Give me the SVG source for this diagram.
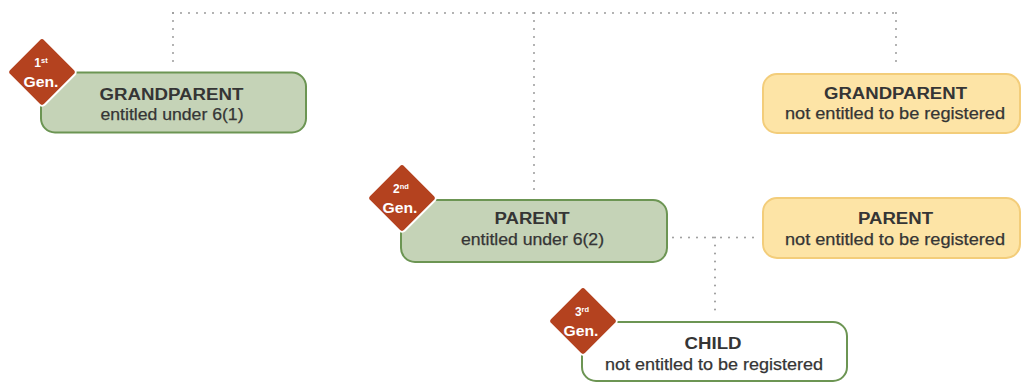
<svg xmlns="http://www.w3.org/2000/svg" width="1021" height="383" viewBox="0 0 1021 383">
<defs>
<style>
.green{fill:#c5d3b7;stroke:#6c9553;stroke-width:2}
.yellow{fill:#fde4a6;stroke:#f3cd7a;stroke-width:2}
.white{fill:#ffffff;stroke:#6c9553;stroke-width:2}
.dia{fill:#b4421f;stroke:#ffffff;stroke-width:2}
.t{font-family:"Liberation Sans",Arial,sans-serif;font-size:16px;font-weight:bold;fill:#353535;text-anchor:middle}
.s{font-family:"Liberation Sans",Arial,sans-serif;font-size:16px;fill:#353535;text-anchor:middle;stroke:#353535;stroke-width:0.25}
.g{font-family:"Liberation Sans",Arial,sans-serif;font-weight:bold;fill:#ffffff;text-anchor:middle}
.dots{fill:none;stroke:#9a9a9a;stroke-width:2;stroke-linecap:round;stroke-dasharray:0 8}
</style>
</defs>
<rect width="1021" height="383" fill="#ffffff"/>
<g id="connectors">
<path class="dots" d="M173 13 H896"/>
<path class="dots" d="M173 13 V66"/>
<path class="dots" d="M534 13 V192"/>
<path class="dots" d="M896 13 V66"/>
<path class="dots" d="M673 237.5 H757"/>
<path class="dots" d="M715 237.5 V316"/>
</g>
<g id="grandparent-entitled">
<rect class="green" x="41" y="72.5" width="265" height="60" rx="14"/>
<text class="t" x="171.5" y="99.5" textLength="144" lengthAdjust="spacingAndGlyphs">GRANDPARENT</text>
<text class="s" x="172" y="119.5" textLength="143" lengthAdjust="spacingAndGlyphs">entitled under 6(1)</text>
<rect class="dia" x="17" y="47" width="50" height="50" rx="4" transform="rotate(45 42 72)"/>
<text class="g" x="41" y="67" font-size="12">1<tspan font-size="7.5" dy="-4.5">st</tspan></text>
<text class="g" x="41" y="87" font-size="15" textLength="35" lengthAdjust="spacingAndGlyphs">Gen.</text>
</g>
<g id="grandparent-not-entitled">
<rect class="yellow" x="763" y="74" width="257" height="59" rx="14"/>
<text class="t" x="895.5" y="99" textLength="143" lengthAdjust="spacingAndGlyphs">GRANDPARENT</text>
<text class="s" x="895" y="119" textLength="220" lengthAdjust="spacingAndGlyphs">not entitled to be registered</text>
</g>
<g id="parent-entitled">
<rect class="green" x="401" y="200" width="266" height="62" rx="14"/>
<text class="t" x="532" y="223.5" textLength="75" lengthAdjust="spacingAndGlyphs">PARENT</text>
<text class="s" x="532.5" y="245" textLength="143" lengthAdjust="spacingAndGlyphs">entitled under 6(2)</text>
<rect class="dia" x="377" y="173" width="50" height="50" rx="4" transform="rotate(45 402 198)"/>
<text class="g" x="401" y="193" font-size="12">2<tspan font-size="7.5" dy="-4.5">nd</tspan></text>
<text class="g" x="400" y="213" font-size="15" textLength="35" lengthAdjust="spacingAndGlyphs">Gen.</text>
</g>
<g id="parent-not-entitled">
<rect class="yellow" x="763" y="198" width="257" height="60" rx="14"/>
<text class="t" x="895.5" y="223.5" textLength="75" lengthAdjust="spacingAndGlyphs">PARENT</text>
<text class="s" x="895" y="245" textLength="220" lengthAdjust="spacingAndGlyphs">not entitled to be registered</text>
</g>
<g id="child">
<rect class="white" x="582" y="322" width="265" height="59" rx="14"/>
<text class="t" x="713" y="348.5" textLength="57" lengthAdjust="spacingAndGlyphs">CHILD</text>
<text class="s" x="714" y="370" textLength="218" lengthAdjust="spacingAndGlyphs">not entitled to be registered</text>
<rect class="dia" x="558" y="296" width="50" height="50" rx="4" transform="rotate(45 583 321)"/>
<text class="g" x="582" y="316" font-size="12">3<tspan font-size="7.5" dy="-4.5">rd</tspan></text>
<text class="g" x="581" y="336" font-size="15" textLength="35" lengthAdjust="spacingAndGlyphs">Gen.</text>
</g>
</svg>
